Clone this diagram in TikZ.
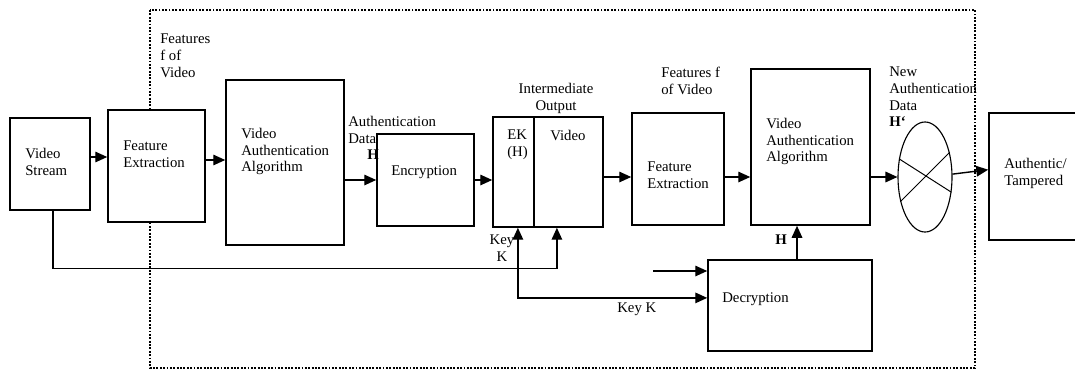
\documentclass[tikz,border=0pt]{standalone}
\usepackage{fontspec}
\setmainfont{Liberation Serif}
\usepackage{tikz}
\usetikzlibrary{shapes.geometric, arrows.meta, positioning}

\begin{document}
\begin{tikzpicture}[
        x=0.025cm, y=0.025cm,
        blk/.style={rectangle, draw=black, fill=white, line width=1.1pt, inner sep=0pt},
        txt/.style={anchor=north west, inner sep=0pt, align=left, font=\fontsize{10.5}{11.8}\selectfont},
        ctxt/.style={anchor=north, inner sep=0pt, align=center, font=\fontsize{10.5}{11.8}\selectfont},
        arr/.style={-{Triangle[length=8.5pt, width=7.5pt]}, line width=1pt},
        darr/.style={{Triangle[length=8.5pt, width=7.5pt]}-{Triangle[length=8.5pt, width=7.5pt]}, line width=1pt},
        frame/.style={line width=1.6pt, dash pattern=on 1.3pt off 1.1pt}
    ]
        \useasboundingbox (0,0) rectangle (1075,371);

        % Dotted frame
        \draw[frame] (150,361) rectangle (975,3);

        % Boxes
        \node[blk, minimum width=2cm, minimum height=2.3cm] (vs) at (50,207) {};
        \node[blk, minimum width=2.425cm, minimum height=2.8cm] (fe1) at (156.5,205) {};
        \node[blk, minimum width=2.95cm, minimum height=4.125cm] (vaa1) at (285,208.5) {};
        \node[blk, minimum width=2.425cm, minimum height=2.3cm] (enc) at (425.5,191) {};
        \node[blk, minimum width=1.025cm, minimum height=2.75cm] (ek) at (513.5,199) {};
        \node[blk, minimum width=1.725cm, minimum height=2.75cm] (vid) at (568.5,199) {};
        \node[blk, minimum width=2.3cm, minimum height=2.8cm] (fe2) at (678,202) {};
        \node[blk, minimum width=2.975cm, minimum height=3.9cm] (vaa2) at (810.5,224) {};
        \node[blk, minimum width=4.1cm, minimum height=2.275cm] (dec) at (790,65.5) {};
        \node[ellipse, draw=black, line width=0.8pt, minimum width=1.35cm, minimum height=2.75cm, inner sep=0pt] (cmp) at (925,194) {};
        \node[blk, minimum width=2.275cm, minimum height=3.175cm] (out) at (1034.5,194.5) {};

        % Texts in boxes
        \node[txt] (vs-t) at (25,223) {Video\\Stream};
        \node[txt] (fe1-t) at (123,230) {Feature\\Extraction};
        \node[txt] (vaa1-t) at (241,243) {Video\\Authentication\\Algorithm};
        \node[txt] (enc-t) at (391,206) {Encryption};
        \node[txt] (ek-t) at (507,241) {EK\\(H)};
        \node[txt] (vid-t) at (550,241) {Video};
        \node[txt] (fe2-t) at (647,209) {Feature\\Extraction};
        \node[txt] (vaa2-t) at (766,253) {Video\\Authentication\\Algorithm};
        \node[txt] (dec-t) at (722,79) {Decryption};
        \node[txt] (out-t) at (1004,213) {Authentic/\\Tampered};

        % Labels
        \node[txt] (feat1) at (160,337) {Features\\f of\\Video};
        \node[txt] (auth) at (348,255) {Authentication\\Data\\\hspace*{0.48cm}\textbf{H}};
        \node[ctxt] (inter) at (556,288) {Intermediate\\Output};
        \node[txt] (feat2) at (661,304) {Features f\\of Video};
        \node[txt] (newauth) at (889,304) {New\\Authentication\\Data\\\textbf{H`}};
        \node[ctxt] (key1) at (502,136) {Key\\K};
        \node[txt] (key2) at (617,68) {Key K};
        \node[txt, font=\fontsize{10.5}{11.8}\selectfont\bfseries] (hdec) at (775,136) {H};

        % Crossed comparator
        \draw[line width=0.7pt] (cmp.145) -- (cmp.-30);
        \draw[line width=0.7pt] (cmp.225) -- (cmp.45);

        % Connections
        \draw[arr] ([yshift=0.175cm]vs.east) -- ([yshift=0.175cm]vs.east -| fe1.west);
        \draw[arr] ([yshift=0.15cm]fe1.east) -- ([yshift=0.15cm]fe1.east -| vaa1.west);
        \draw[arr] (vaa1.east |- enc.west) -- (enc.west);
        \draw[arr] (enc.east) -- (enc.east -| ek.west);
        \draw[arr] ([yshift=-0.125cm]vid.east) -- ([yshift=-0.125cm]vid.east -| fe2.west);
        \draw[arr] ([yshift=-0.2cm]fe2.east) -- ([yshift=-0.2cm]fe2.east -| vaa2.west);
        \draw[arr] (vaa2.east |- cmp.west) -- (cmp.west);
        \draw[arr] (cmp.6) -- ([yshift=0.17cm]out.west);
        \draw[arr] ([xshift=0.075cm]vs.south) -- ++(0,-58) -| ([xshift=-0.29cm]vid.south);
        \draw[darr] ([xshift=0.11cm]ek.south) |- ([yshift=0.19cm]dec.west);
        \coordinate (kin) at (653,100);
        \draw[arr] (kin) -- (kin -| dec.west);
        \draw[arr] ([xshift=0.175cm]dec.north) -- ([xshift=0.175cm]dec.north |- vaa2.south);
    \end{tikzpicture}
\end{document}
